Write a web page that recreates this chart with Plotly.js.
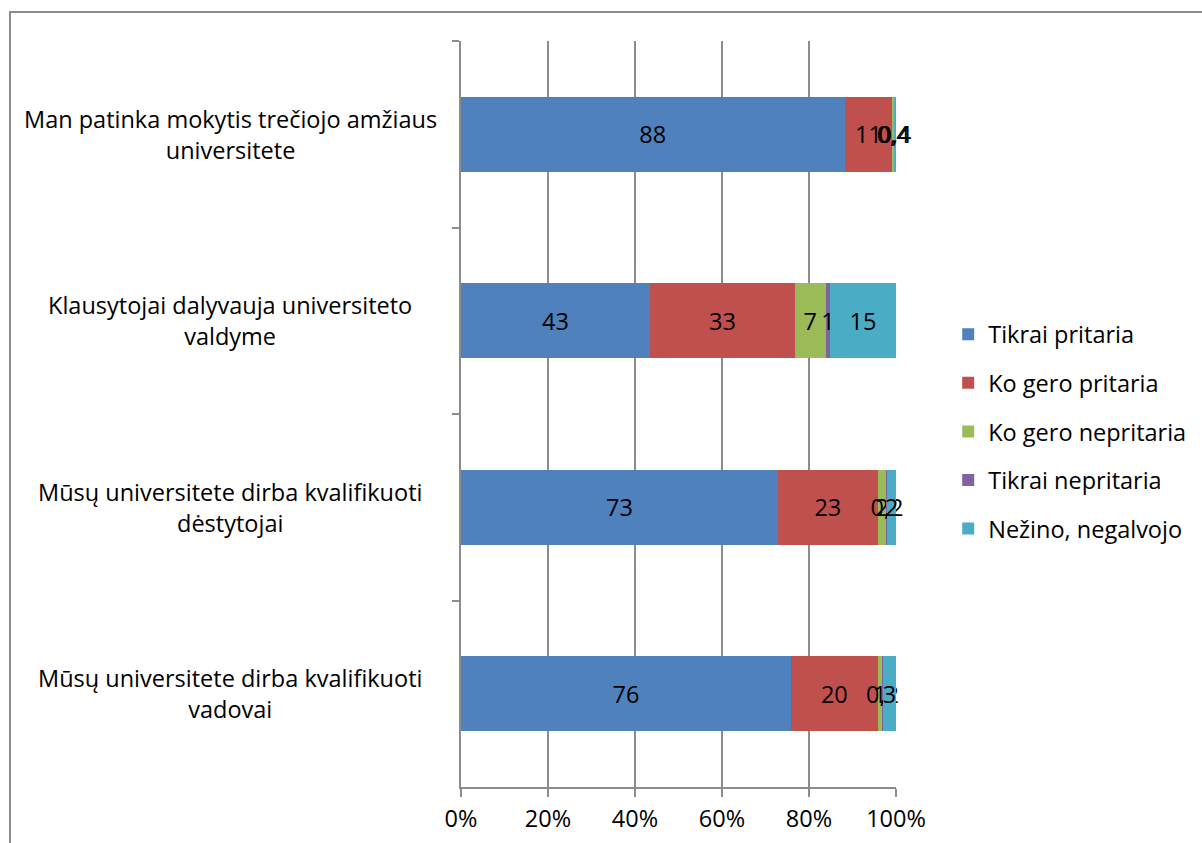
<!DOCTYPE html>
<html>
<head>
<meta charset="utf-8">
<script src="https://cdn.plot.ly/plotly-3.0.1.min.js"></script>
<style>
  body { margin: 0; background: #fff; }
  #chart { width: 1202px; height: 843px; }
  #frame { position: absolute; left: 9px; top: 11px; width: 1300px; height: 900px;
           border-left: 2px solid #8c8c8c; border-top: 2px solid #8c8c8c; pointer-events: none; }
</style>
</head>
<body>
<div id="chart"></div>
<div id="frame"></div>
<script>
// statements (top to bottom)
var categories = [
  'Man patinka mokytis trečiojo amžiaus<br>universitete',
  'Klausytojai dalyvauja universiteto<br>valdyme',
  'Mūsų universitete dirba kvalifikuoti<br>dėstytojai',
  'Mūsų universitete dirba kvalifikuoti<br>vadovai'
];
var seriesNames = ['Tikrai pritaria', 'Ko gero pritaria', 'Ko gero nepritaria', 'Tikrai nepritaria', 'Nežino, negalvojo'];
var tikraiPritaria   = [88, 43, 73, 76];
var koGeroPritaria   = [11, 33, 23, 20];
var koGeroNepritaria = [0.4, 7, 2, 1];
var tikraiNepritaria = [0, 1, 0.2, 0.2];
var nezino           = [0.4, 15, 2, 3];
var colors = ['#4f81bd', '#c0504d', '#9bbb59', '#8064a2', '#4bacc6'];
var xTicks = [0, 20, 40, 60, 80, 100];

var font = '"Open Sans", Lato, sans-serif';
var fs = 23.5;
var allSeries = [tikraiPritaria, koGeroPritaria, koGeroNepritaria, tikraiNepritaria, nezino];

var data = allSeries.map(function (vals, i) {
  return {
    type: 'bar', orientation: 'h',
    name: seriesNames[i], legendgroup: 'g' + i,
    y: categories, x: vals,
    marker: {color: colors[i]},
    text: vals.map(function (v) { return String(v).replace('.', ','); }),
    textposition: 'inside', insidetextanchor: 'middle',
    constraintext: 'none', textangle: 0, cliponaxis: false,
    textfont: {family: font, size: fs, color: '#000'},
    hoverinfo: 'x+name'
  };
});

var annotations = categories.map(function (c) {
  return {xref: 'paper', yref: 'y', x: -0.53, y: c, text: c, showarrow: false,
          xanchor: 'center', align: 'center', font: {family: font, size: fs, color: '#000'}};
});

var layout = {
  width: 1202, height: 843,
  margin: {l: 461, r: 306, t: 41, b: 56, autoexpand: false},
  barmode: 'stack', barnorm: 'percent', bargap: 0.6,
  paper_bgcolor: 'rgba(0,0,0,0)', plot_bgcolor: '#fff',
  font: {family: font, size: fs, color: '#000'},
  xaxis: {range: [0, 100.0001], tickmode: 'array', tickvals: xTicks,
          ticktext: xTicks.map(function (v) { return v + '%'; }), showgrid: true,
          gridcolor: '#8c8c8c', gridwidth: 1.5, showline: true, linecolor: '#8c8c8c', linewidth: 1.5,
          ticks: 'outside', ticklen: 8, tickcolor: '#8c8c8c', tickwidth: 1.5, zeroline: false,
          ticklabelstandoff: 2, tickfont: {family: font, size: fs, color: '#000'}},
  yaxis: {autorange: 'reversed', showticklabels: false, tickson: 'boundaries',
          ticks: 'outside', ticklen: 7, tickcolor: '#8c8c8c', tickwidth: 1.5,
          showline: true, linecolor: '#8c8c8c', linewidth: 1.5, showgrid: false},
  legend: {x: 1.12, y: 0.636, xanchor: 'left', yanchor: 'top', tracegroupgap: 15,
           itemwidth: 30, font: {family: font, size: fs, color: '#000'}, traceorder: 'grouped'},
  annotations: annotations,
  showlegend: true
};

Plotly.newPlot('chart', data, layout, {displayModeBar: false});
</script>
</body>
</html>
